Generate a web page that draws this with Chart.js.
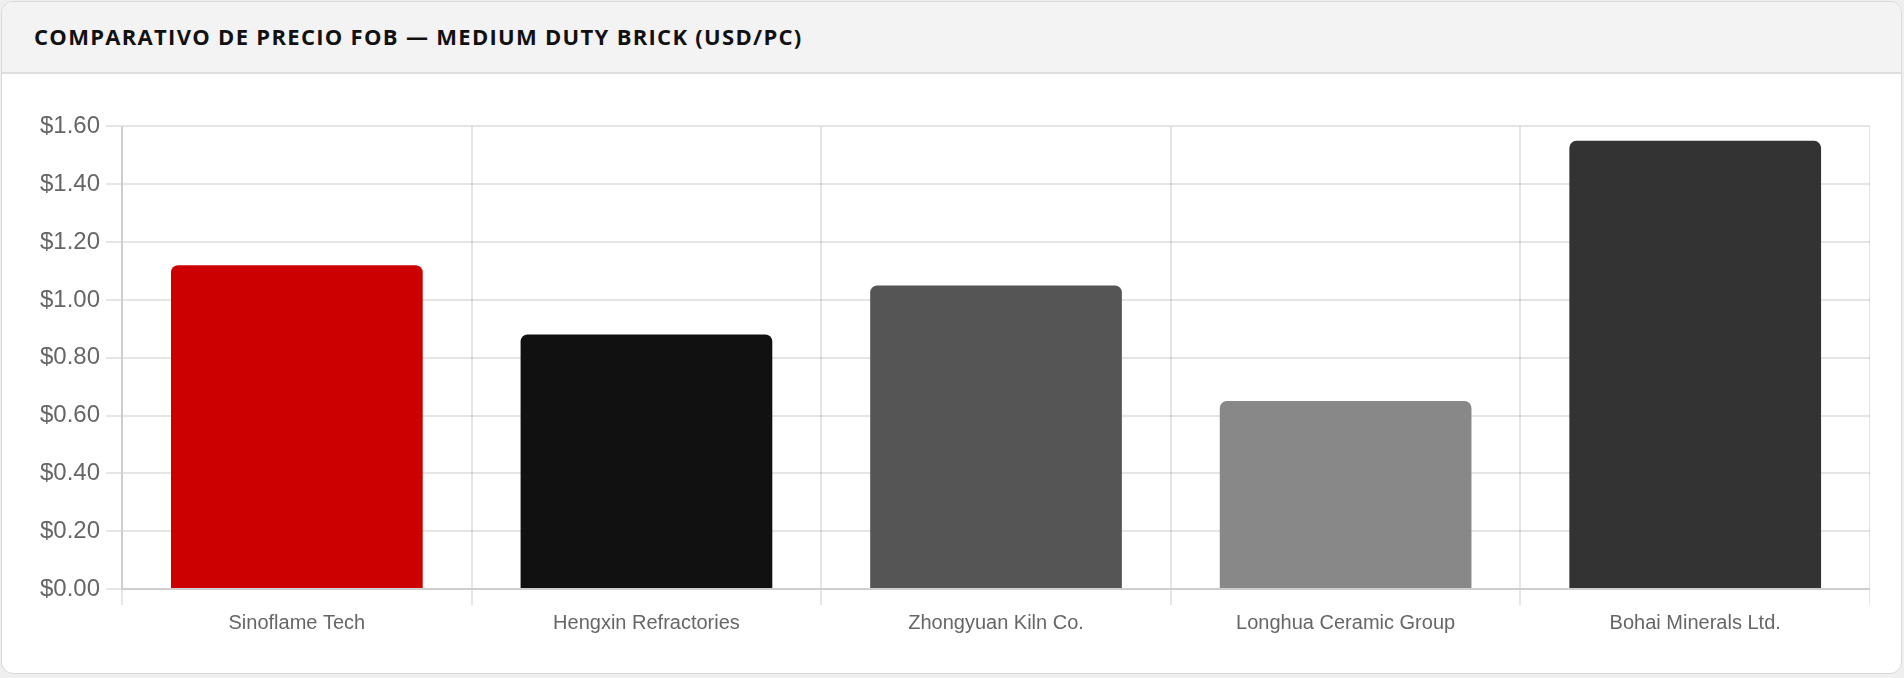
<!DOCTYPE html>
<html>
<head>
<meta charset="utf-8">
<script src="https://cdn.jsdelivr.net/npm/chart.js@4.4.1/dist/chart.umd.min.js"></script>
<style>
  html, body { margin: 0; padding: 0; background: #efefef; }
  .card {
    position: absolute; left: 1px; top: 1px; width: 1901px; height: 673px;
    box-sizing: border-box; background: #fff; border: 1px solid #d9d9d9;
    border-radius: 12px; overflow: hidden;
  }
  .card-header {
    height: 70px; background: #f3f3f3; border-bottom: 2px solid #dedede;
    display: flex; align-items: center; padding-left: 32px;
  }
  .card-header h3 {
    margin: 0 0 3px 0; font-family: "Open Sans", "Noto Sans", sans-serif; font-weight: 700;
    font-size: 22px; letter-spacing: 1.3px; color: #111;
  }
  .chart-wrap { position: absolute; left: 32px; top: 104px; width: 1836px; height: 535px; }
</style>
</head>
<body>
<div class="card">
  <div class="card-header"><h3>COMPARATIVO DE PRECIO FOB — MEDIUM DUTY BRICK (USD/PC)</h3></div>
  <div class="chart-wrap"><canvas id="fobChart"></canvas></div>
</div>
<script>
// data
const suppliers = ['Sinoflame Tech', 'Hengxin Refractories', 'Zhongyuan Kiln Co.', 'Longhua Ceramic Group', 'Bohai Minerals Ltd.'];
const fobPrices = [1.12, 0.88, 1.05, 0.65, 1.55];
const barColors = ['#cc0000', '#111111', '#555555', '#888888', '#333333'];

const ctx = document.getElementById('fobChart');
new Chart(ctx, {
  type: 'bar',
  data: {
    labels: suppliers,
    datasets: [{
      label: 'FOB USD/pc',
      data: fobPrices,
      backgroundColor: barColors,
      borderRadius: 7,
      borderSkipped: 'start'
    }]
  },
  options: {
    responsive: true,
    maintainAspectRatio: false,
    animation: false,
    plugins: { legend: { display: false }, tooltip: { enabled: false } },
    scales: {
      x: {
        grid: { lineWidth: 2, tickLength: 16 },
        border: { width: 2 },
        ticks: { color: '#666', padding: 6, font: { family: '"Liberation Sans", Arial, sans-serif', size: 20 } }
      },
      y: {
        min: 0,
        max: 1.6,
        grid: { lineWidth: 2, tickLength: 16 },
        border: { width: 2 },
        ticks: {
          stepSize: 0.2,
          color: '#666',
          padding: 6,
          font: { family: '"Liberation Sans", Arial, sans-serif', size: 24 },
          callback: v => '$' + Number(v).toFixed(2)
        }
      }
    }
  }
});
</script>
</body>
</html>
